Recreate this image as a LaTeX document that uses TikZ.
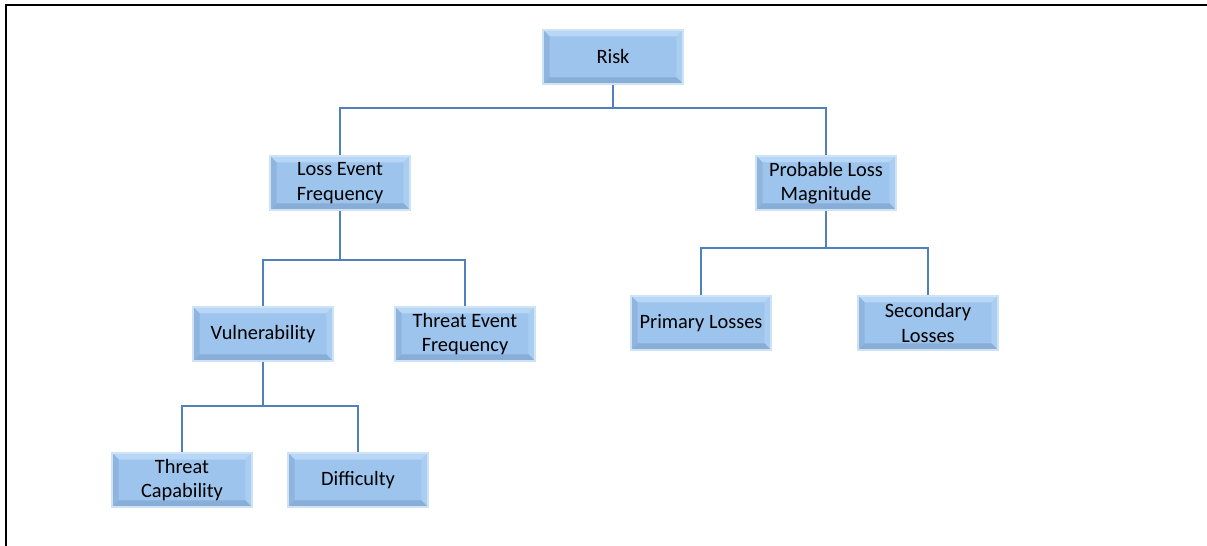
\documentclass[tikz,border=0pt]{standalone}
\usepackage{fontspec}
\setmainfont{Carlito}
\usepackage{xcolor}
\usetikzlibrary{positioning,calc}

\definecolor{boxfill}{HTML}{9DC4EC}
\definecolor{bevtop}{HTML}{B8D6F5}
\definecolor{bevleft}{HTML}{8FB5DE}
\definecolor{bevright}{HTML}{AACEF2}
\definecolor{bevbot}{HTML}{88AED8}
\definecolor{boxrim}{HTML}{CFE3F7}
\definecolor{linkblue}{HTML}{4F81BD}

\begin{document}
\begin{tikzpicture}[
    x=0.02cm, y=-0.02cm,
    every node/.style={font=\fontsize{11.6}{13.8}\selectfont},
    factor/.style={rectangle, fill=boxfill, draw=boxrim, line width=0.8pt,
        minimum width=2.8cm, minimum height=1.08cm, inner sep=1pt,
        align=center, text centered,
        path picture={
            \fill[bevtop] (path picture bounding box.north west) -- (path picture bounding box.north east)
                -- ([shift={(-0.13cm,-0.13cm)}]path picture bounding box.north east)
                -- ([shift={(0.13cm,-0.13cm)}]path picture bounding box.north west) -- cycle;
            \fill[bevleft] (path picture bounding box.north west) -- (path picture bounding box.south west)
                -- ([shift={(0.13cm,0.13cm)}]path picture bounding box.south west)
                -- ([shift={(0.13cm,-0.13cm)}]path picture bounding box.north west) -- cycle;
            \fill[bevright] (path picture bounding box.north east) -- (path picture bounding box.south east)
                -- ([shift={(-0.13cm,0.13cm)}]path picture bounding box.south east)
                -- ([shift={(-0.13cm,-0.13cm)}]path picture bounding box.north east) -- cycle;
            \fill[bevbot] (path picture bounding box.south west) -- (path picture bounding box.south east)
                -- ([shift={(-0.13cm,0.13cm)}]path picture bounding box.south east)
                -- ([shift={(0.13cm,0.13cm)}]path picture bounding box.south west) -- cycle;
        }},
    link/.style={draw=linkblue, line width=1.6pt}
]

\useasboundingbox (0,0) rectangle (1207,546);
\draw[line width=1.2pt] (6,546) -- (6,5) -- (1207,5);

% top level
\node[factor] (risk) at (613,57) {Risk};

% second level
\node[factor] (lef) at (340,183) {Loss Event\\Frequency};
\node[factor] (plm) at (826,183) {Probable Loss\\Magnitude};

% third level
\node[factor] (vuln) at (263,334) {Vulnerability};
\node[factor] (tef) at (465,334) {Threat Event\\Frequency};
\node[factor] (prim) at (701,323) {Primary Losses};
\node[factor] (sec) at (928,323) {Secondary\\Losses};

% fourth level
\node[factor] (tcap) at (182,480) {Threat\\Capability};
\node[factor] (diff) at (358,480) {Difficulty};

% connectors
\coordinate (jrisk) at (613,108);
\coordinate (jlef) at (340,260);
\coordinate (jplm) at (826,248);
\coordinate (jvuln) at (263,406);

\draw[link] (risk.south) -- (jrisk) -| (lef.north);
\draw[link] (jrisk) -| (plm.north);
\draw[link] (lef.south) -- (jlef) -| (vuln.north);
\draw[link] (jlef) -| (tef.north);
\draw[link] (plm.south) -- (jplm) -| (prim.north);
\draw[link] (jplm) -| (sec.north);
\draw[link] (vuln.south) -- (jvuln) -| (tcap.north);
\draw[link] (jvuln) -| (diff.north);

\end{tikzpicture}
\end{document}
